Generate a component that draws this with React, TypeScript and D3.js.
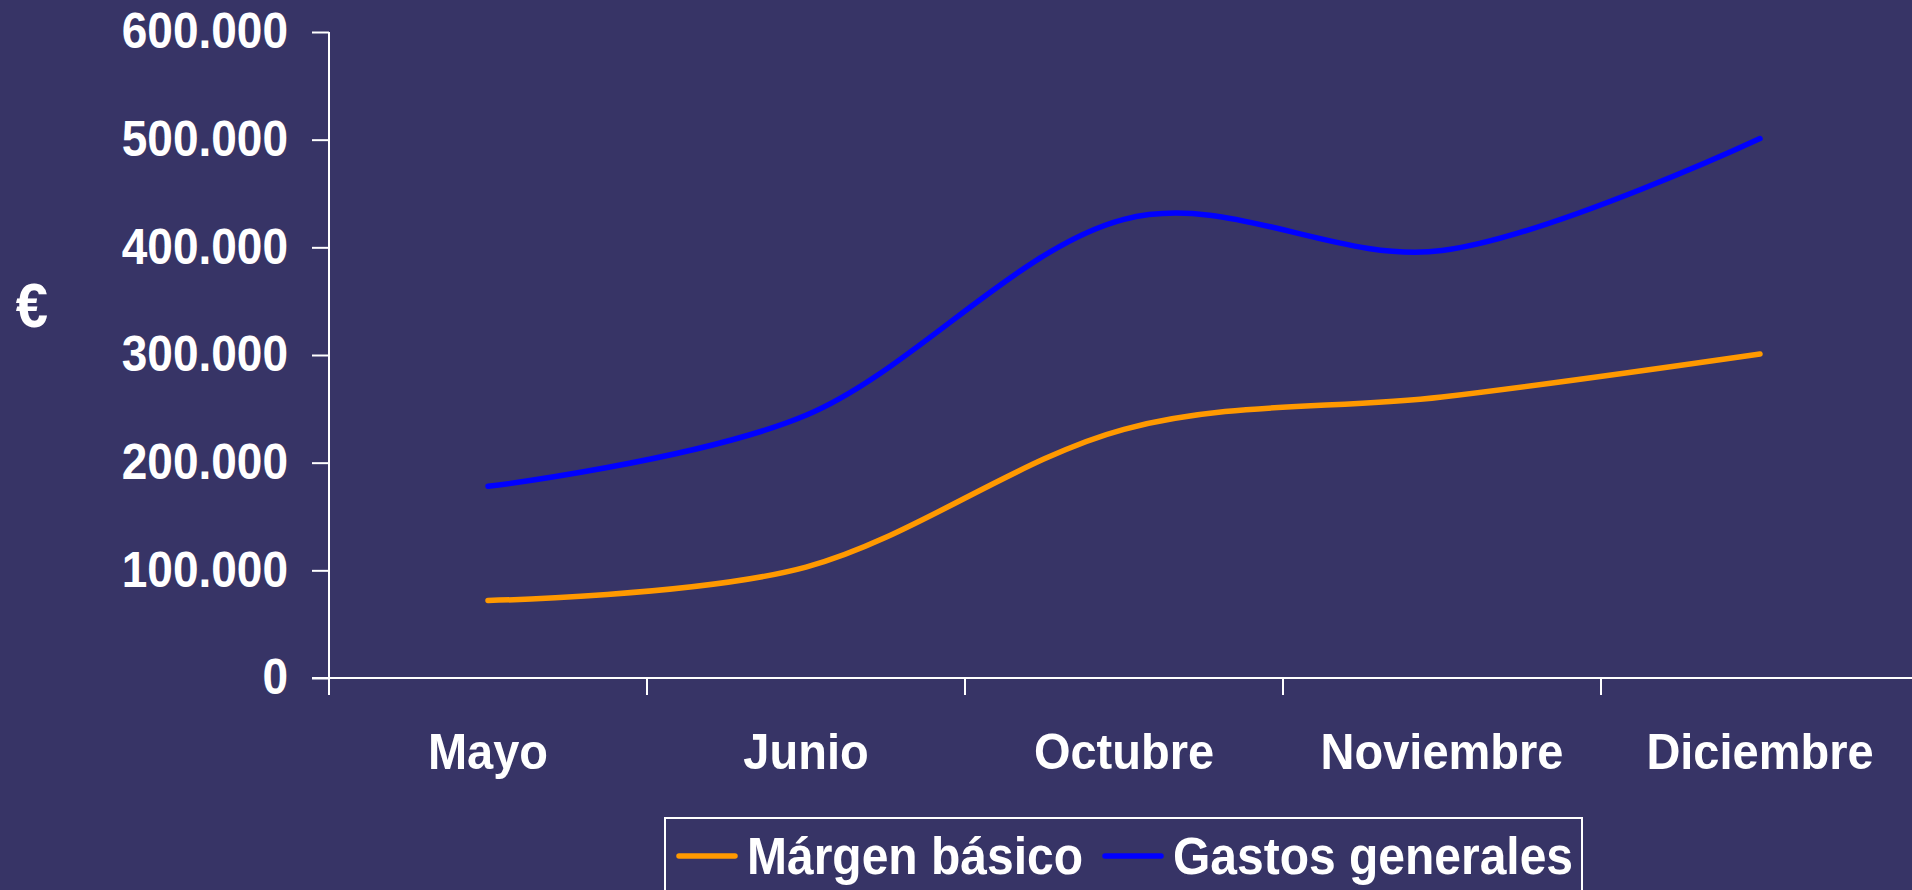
import { useEffect, useRef } from 'react';
import * as d3 from 'd3';

const months = ['Mayo', 'Junio', 'Octubre', 'Noviembre', 'Diciembre'];
const margenBasico = [72000, 103000, 231000, 261000, 301000];
const gastosGenerales = [178000, 244000, 426000, 397000, 501000];
const yTicks = [0, 100000, 200000, 300000, 400000, 500000, 600000];
const seriesNames = ['Márgen básico', 'Gastos generales'];

const width = 1912;
const height = 890;

type Point = { month: string; value: number };

const App = () => {
    const chartRef = useRef<SVGSVGElement | null>(null);

    useEffect(() => {
        document.body.style.margin = '0';
        const svg = d3.select(chartRef.current);
        svg.selectAll('*').remove();

        const font = '"Liberation Sans", Arial, sans-serif';

        svg.append('rect')
            .attr('width', width)
            .attr('height', height)
            .attr('fill', '#373466');

        const xScale = d3.scaleBand<string>()
            .domain(months)
            .range([329, 329 + 318 * months.length])
            .padding(0);

        const yScale = d3.scaleLinear()
            .domain([0, 600000])
            .range([678, 32]);

        const fmt = (d: number) => d3.format(',')(d).replace(/,/g, '.');

        // y axis
        const yAxis = svg.append('g')
            .attr('transform', 'translate(329,0)')
            .call(d3.axisLeft(yScale).tickValues(yTicks).tickSize(17).tickPadding(24).tickFormat(d => fmt(d as number)));
        yAxis.select('.domain').remove();
        yAxis.selectAll('line').attr('stroke', '#ffffff').attr('stroke-width', 2);
        yAxis.selectAll('text')
            .attr('fill', '#ffffff')
            .style('font-family', font)
            .style('font-weight', 'bold')
            .style('font-size', '46px');

        svg.append('line')
            .attr('x1', 329).attr('x2', 329)
            .attr('y1', yScale(600000)).attr('y2', 695)
            .attr('stroke', '#ffffff').attr('stroke-width', 2);

        // x axis
        svg.append('line')
            .attr('x1', 312).attr('x2', width)
            .attr('y1', yScale(0)).attr('y2', yScale(0))
            .attr('stroke', '#ffffff').attr('stroke-width', 2);

        svg.append('g')
            .selectAll('line')
            .data(months)
            .enter()
            .append('line')
            .attr('x1', d => xScale(d) as number)
            .attr('x2', d => xScale(d) as number)
            .attr('y1', yScale(0))
            .attr('y2', 695)
            .attr('stroke', '#ffffff')
            .attr('stroke-width', 2);

        svg.append('g')
            .selectAll('text')
            .data(months)
            .enter()
            .append('text')
            .attr('x', d => (xScale(d) as number) + xScale.bandwidth() / 2)
            .attr('y', 768)
            .attr('text-anchor', 'middle')
            .attr('fill', '#ffffff')
            .style('font-family', font)
            .style('font-weight', 'bold')
            .style('font-size', '47px')
            .text(d => d);

        // euro label
        svg.append('text')
            .attr('x', 32)
            .attr('y', 325)
            .attr('text-anchor', 'middle')
            .attr('fill', '#ffffff')
            .style('font-family', font)
            .style('font-weight', 'bold')
            .style('font-size', '58px')
            .text('€');

        // smoothed like the excel lines
        const line = d3.line<Point>()
            .x(d => (xScale(d.month) as number) + xScale.bandwidth() / 2)
            .y(d => yScale(d.value))
            .curve(d3.curveCatmullRom.alpha(0));

        const series = [
            { name: seriesNames[0], color: '#ff9900', values: margenBasico },
            { name: seriesNames[1], color: '#0000ff', values: gastosGenerales },
        ];

        series.forEach(s => {
            svg.append('path')
                .datum<Point[]>(s.values.map((v, i) => ({ month: months[i], value: v })))
                .attr('fill', 'none')
                .attr('stroke', s.color)
                .attr('stroke-width', 5.5)
                .attr('stroke-linecap', 'round')
                .attr('stroke-linejoin', 'round')
                .attr('d', line);
        });

        // legend
        const legend = svg.append('g');
        legend.append('rect')
            .attr('x', 665)
            .attr('y', 818)
            .attr('width', 917)
            .attr('height', 100)
            .attr('fill', 'none')
            .attr('stroke', '#ffffff')
            .attr('stroke-width', 2);

        const legendItems = [
            { x: 679, textX: 747 },
            { x: 1105, textX: 1173 },
        ];
        series.forEach((s, i) => {
            legend.append('line')
                .attr('x1', legendItems[i].x)
                .attr('x2', legendItems[i].x + 56)
                .attr('y1', 856)
                .attr('y2', 856)
                .attr('stroke', s.color)
                .attr('stroke-width', 5.5)
                .attr('stroke-linecap', 'round');
            legend.append('text')
                .attr('x', legendItems[i].textX)
                .attr('y', 873)
                .attr('fill', '#ffffff')
                .style('font-family', font)
                .style('font-weight', 'bold')
                .style('font-size', '48px')
                .text(s.name);
        });

        // the original text is drawn slightly taller than it is wide
        svg.selectAll('text')
            .style('transform-box', 'fill-box')
            .style('transform-origin', 'center')
            .style('transform', 'scaleY(1.08)');
    }, []);

    return (
        <svg ref={chartRef} width={width} height={height} style={{ display: 'block' }}></svg>
    );
};

export default App;
